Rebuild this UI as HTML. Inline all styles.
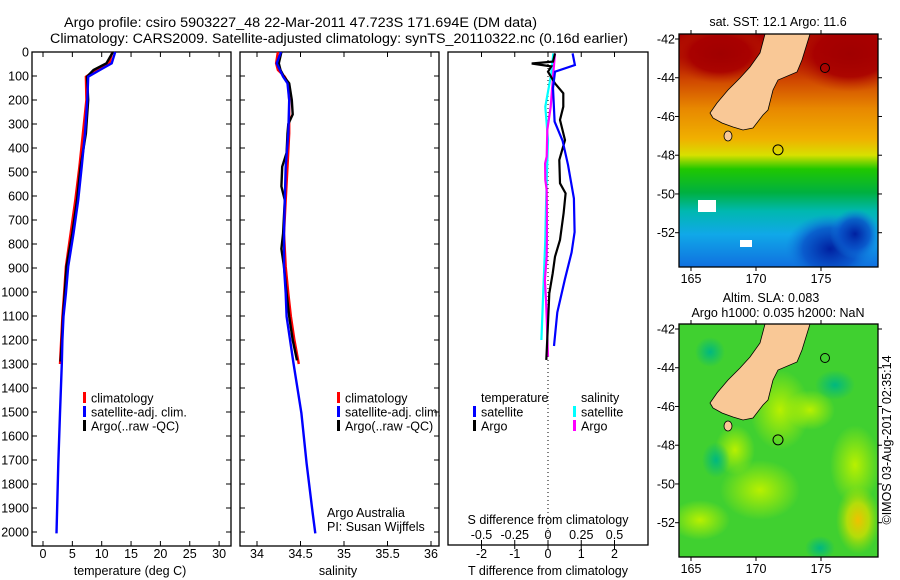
<!DOCTYPE html>
<html><head><meta charset="utf-8"><style>
body{margin:0;background:#fff;}
svg{display:block;font-family:"Liberation Sans",sans-serif;}
text{font-size:12.5px;fill:#000;}
</style></head><body>
<svg id="fig" width="900" height="580" viewBox="0 0 900 580">
<defs>
<linearGradient id="sstg" x1="0" y1="0" x2="0" y2="1">
<stop offset="0" stop-color="#a80000"/><stop offset="0.1" stop-color="#b00800"/><stop offset="0.2" stop-color="#d04800"/>
<stop offset="0.32" stop-color="#e88800"/><stop offset="0.45" stop-color="#f0b000"/><stop offset="0.52" stop-color="#d8e000"/>
<stop offset="0.58" stop-color="#20c800"/><stop offset="0.68" stop-color="#00b040"/><stop offset="0.76" stop-color="#00b8b0"/>
<stop offset="0.86" stop-color="#10a8e8"/><stop offset="1" stop-color="#1070e0"/></linearGradient>
<radialGradient id="blueblob"><stop offset="0" stop-color="#0020a0"/><stop offset="0.6" stop-color="#0850c8" stop-opacity="0.8"/><stop offset="1" stop-color="#1080e0" stop-opacity="0"/></radialGradient>
<radialGradient id="redblob"><stop offset="0" stop-color="#a00000"/><stop offset="0.6" stop-color="#a80000" stop-opacity="0.9"/><stop offset="1" stop-color="#c03000" stop-opacity="0"/></radialGradient>
<radialGradient id="yelblob"><stop offset="0" stop-color="#f0c000"/><stop offset="0.5" stop-color="#d0e000" stop-opacity="0.8"/><stop offset="1" stop-color="#a0e000" stop-opacity="0"/></radialGradient>
<radialGradient id="ygblob"><stop offset="0" stop-color="#b8f000"/><stop offset="1" stop-color="#b8f000" stop-opacity="0"/></radialGradient>
<radialGradient id="tealblob"><stop offset="0" stop-color="#00b880"/><stop offset="1" stop-color="#00b880" stop-opacity="0"/></radialGradient>
</defs>
<text x="64" y="27" textLength="473" lengthAdjust="spacingAndGlyphs" style="font-size:14.2px">Argo profile: csiro 5903227_48 22-Mar-2011 47.723S 171.694E (DM data)</text>
<text x="50" y="43" textLength="578" lengthAdjust="spacingAndGlyphs" style="font-size:14.2px">Climatology: CARS2009. Satellite-adjusted climatology: synTS_20110322.nc (0.16d earlier)</text>
<g id="g1"></g>
<g id="g2"></g>
<g id="g3"></g>
<g id="m1"></g>
<g id="m2"></g>
<text x="0" y="0" transform="translate(891,440) rotate(-90)" text-anchor="middle">©IMOS 03-Aug-2017 02:35:14</text>
</svg>
<script>
// ---- data ----
const depthsT = [0,47,75,103,200,339,478,617,756,894,1006,1102,1200,1300,1505,1714,2006];
const tempSat = [12.3,11.7,9.7,7.7,7.55,7.15,6.6,6.0,5.2,4.3,3.9,3.5,3.3,3.2,2.9,2.6,2.3];
const depthsClim = [0,47,75,103,200,339,478,617,756,894,1006,1102,1200,1300];
const tempClim = [11.8,11.3,9.0,7.3,7.4,6.8,6.2,5.5,4.7,3.9,3.6,3.3,3.1,2.9];
const depthsArgo = [0,47,75,103,200,339,478,617,756,894,1006,1102,1200,1290];
const tempArgo = [11.9,10.8,8.6,7.5,7.7,7.3,6.4,5.8,5.0,4.0,3.7,3.4,3.2,3.0];
const depthsS = [0,47,103,131,200,339,478,617,756,894,1006,1102,1297,1505,1714,1922,2006];
const salSat = [34.276,34.226,34.30,34.35,34.37,34.36,34.33,34.32,34.31,34.31,34.33,34.34,34.42,34.51,34.57,34.64,34.67];
const depthsSClim = [0,47,75,103,131,200,339,478,617,756,894,1006,1102,1200,1300];
const salClim = [34.24,34.22,34.24,34.32,34.36,34.37,34.37,34.35,34.33,34.31,34.33,34.36,34.39,34.43,34.48];
const depthsSArgo = [0,47,75,103,131,200,260,300,339,420,478,560,617,756,820,894,1006,1102,1200,1285];
const salArgo = [34.28,34.25,34.27,34.31,34.37,34.40,34.41,34.36,34.35,34.34,34.29,34.28,34.32,34.30,34.28,34.31,34.34,34.37,34.41,34.46];
const dDepthTSat = [6,54,82,150,290,370,470,610,750,835,945,1085,1225];
const dTSat = [0.74,0.81,0.21,0.15,0.2,0.44,0.6,0.78,0.8,0.71,0.51,0.28,0.18];
const dDepthTArgo = [6,40,48,60,82,131,172,228,283,367,450,547,589,672,783,853,922,1006,1130,1283];
const dTArgo = [0.21,0.15,-0.49,0.1,0.0,0.21,0.46,0.46,0.36,0.51,0.34,0.36,0.53,0.47,0.36,0.21,0.14,0.04,0.0,-0.05];
const dDepthSArgo = [6,89,158,228,325,436,464,533,575,672,783,853,950,1033,1130,1269];
const dSArgo = [0.053,0.04,0.03,0.02,-0.005,-0.01,-0.022,-0.02,-0.01,-0.008,-0.008,-0.01,-0.023,-0.015,-0.008,0.0];
const dDepthSSat = [6,89,228,367,506,644,783,922,1061,1200];
const dSSat = [0.04,0.025,-0.02,0.0,-0.008,-0.015,-0.02,-0.03,-0.04,-0.05];
const depthTicks = [0,100,200,300,400,500,600,700,800,900,1000,1100,1200,1300,1400,1500,1600,1700,1800,1900,2000];
const tempTicks = [0,5,10,15,20,25,30];
const salTicks = [34,34.5,35,35.5,36];
const tdTicks = [-2,-1,0,1,2];
const sdTicks = [-0.5,-0.25,0,0.25,0.5];
const latTicks = [-42,-44,-46,-48,-50,-52];
const lonTicks = [165,170,175];

// ---- axes ----
const yD = d => 52 + d*0.24;
const xT = t => 43 + t*5.87;
const xS = s => 257 + (s-34)*87;
const xTD = v => 548 + v*33.25;
const xSD = v => 548 + v*133;
const NS='http://www.w3.org/2000/svg';
function mk(parent, tag, at, txt){const e=document.createElementNS(NS,tag);for(const k in at)e.setAttribute(k,at[k]);if(txt!==undefined)e.textContent=txt;parent.appendChild(e);return e;}

function frame(g,x0,x1,y0,y1,name){
  const r=mk(g,'rect',{x:x0,y:y0,width:x1-x0,height:y1-y0,fill:'none',stroke:'#000','stroke-width':1.3});
  
  
}
function line(g,xs,ys,fx,color,name,w){
  const pts=xs.map((v,i)=>fx(v).toFixed(1)+','+yD(ys[i]).toFixed(1)).join(' ');
  const p=mk(g,'polyline',{points:pts,fill:'none',stroke:color,'stroke-width':w||2.4,'stroke-linejoin':'miter'});
  
  
}
function yTicks(g,x0,x1,labels){
  depthTicks.forEach(d=>{
    const y=yD(d);
    mk(g,'line',{x1:x0,y1:y,x2:x0+5,y2:y,stroke:'#000'});
    mk(g,'line',{x1:x1-5,y1:y,x2:x1,y2:y,stroke:'#000'});
    if(labels){const t=mk(g,'text',{x:x0-3,y:y+4.5,'text-anchor':'end'},d);
      
      }
  });
}
function legendBar(g,x,y,color,label,name){
  mk(g,'rect',{x:x-1,y:y-6,width:3,height:11,fill:color});
  const t=mk(g,'text',{x:x+7,y:y+4.5},label);
  
  
}

// ---- panel 1 temperature ----
const g1=document.getElementById('g1');
frame(g1,32,231,52,546,'temperature-axes-frame');
yTicks(g1,32,231,true);
tempTicks.forEach(t=>{const x=xT(t);mk(g1,'line',{x1:x,y1:546,x2:x,y2:541,stroke:'#000'});mk(g1,'line',{x1:x,y1:52,x2:x,y2:57,stroke:'#000'});
  const l=mk(g1,'text',{x:x,y:558,'text-anchor':'middle'},t);
  
  });
line(g1,tempClim,depthsClim,xT,'#f00','temperature-climatology-line');
line(g1,tempArgo,depthsArgo,xT,'#000','temperature-argo-line');
line(g1,tempSat,depthsT,xT,'#00f','temperature-satellite-line');
legendBar(g1,84,398,'#f00','climatology','legend-climatology');
legendBar(g1,84,412,'#00f','satellite-adj. clim.','legend-satellite');
legendBar(g1,84,426,'#000','Argo(..raw -QC)','legend-argo');
{const t=mk(g1,'text',{x:130,y:575,'text-anchor':'middle'},'temperature (deg C)');}

// ---- panel 2 salinity ----
const g2=document.getElementById('g2');
frame(g2,240,439,52,546,'salinity-axes-frame');
yTicks(g2,240,439,false);
salTicks.forEach(s=>{const x=xS(s);mk(g2,'line',{x1:x,y1:546,x2:x,y2:541,stroke:'#000'});mk(g2,'line',{x1:x,y1:52,x2:x,y2:57,stroke:'#000'});
  const l=mk(g2,'text',{x:x,y:558,'text-anchor':'middle'},s);
  
  });
line(g2,salClim,depthsSClim,xS,'#f00','salinity-climatology-line');
line(g2,salArgo,depthsSArgo,xS,'#000','salinity-argo-line');
line(g2,salSat,depthsS,xS,'#00f','salinity-satellite-line');
legendBar(g2,338,398,'#f00','climatology','legend-climatology-sal');
legendBar(g2,338,412,'#00f','satellite-adj. clim.','legend-satellite-sal');
legendBar(g2,338,426,'#000','Argo(..raw -QC)','legend-argo-sal');
{const t=mk(g2,'text',{x:327,y:517},'Argo Australia');}
{const t=mk(g2,'text',{x:327,y:531},'PI: Susan Wijffels');}
{const t=mk(g2,'text',{x:338,y:575,'text-anchor':'middle'},'salinity');}

// ---- panel 3 differences ----
const g3=document.getElementById('g3');
frame(g3,448,648,52,545,'difference-axes-frame');
mk(g3,'line',{x1:548,y1:52,x2:548,y2:545,stroke:'#000','stroke-dasharray':'1,3'});
tdTicks.forEach(v=>{const x=xTD(v);mk(g3,'line',{x1:x,y1:52,x2:x,y2:57,stroke:'#000'});mk(g3,'line',{x1:x,y1:545,x2:x,y2:549,stroke:'#000'});
  const l=mk(g3,'text',{x:x,y:558,'text-anchor':'middle'},v);
  
  });
sdTicks.forEach(v=>{const x=xSD(v);mk(g3,'line',{x1:x,y1:545,x2:x,y2:540,stroke:'#000'});
  const l=mk(g3,'text',{x:x,y:539,'text-anchor':'middle'},v);
  
  });
line(g3,dSSat,dDepthSSat,xSD,'#0ff','sdiff-satellite-line',2.2);
line(g3,dSArgo,dDepthSArgo,xSD,'#f0f','sdiff-argo-line',2.2);
line(g3,dTArgo,dDepthTArgo,xTD,'#000','tdiff-argo-line',2.2);
line(g3,dTSat,dDepthTSat,xTD,'#00f','tdiff-satellite-line',2.2);
{const t=mk(g3,'text',{x:481,y:402},'temperature');}
{const t=mk(g3,'text',{x:581,y:402},'salinity');}
legendBar(g3,474,412,'#00f','satellite','legend-t-satellite');
legendBar(g3,474,426,'#000','Argo','legend-t-argo');
legendBar(g3,574,412,'#0ff','satellite','legend-s-satellite');
legendBar(g3,574,426,'#f0f','Argo','legend-s-argo');
{const t=mk(g3,'text',{x:548,y:524,'text-anchor':'middle'},'S difference from climatology');}
{const t=mk(g3,'text',{x:548,y:575,'text-anchor':'middle'},'T difference from climatology');}

// ---- maps ----
const lx = lon => 691 + (lon-165)*13;
const landPts=[[765,34],[810,34],[802,60],[797,72],[778,80],[773,90],[768,110],[763,115],[753,128],[743,130],[733,127],[722,123],[713,118],[710,113],[717,103],[728,90],[740,78],[750,67],[760,53]];
function map(id,off,kind){
  const g=document.getElementById(id);
  const y0=34+off,y1=267+off,x0=679,x1=878;
  const ly = lat => 39+off + (-42-lat)*19.37;
  const clip='clip'+id;
  const cp=mk(g,'clipPath',{id:clip});mk(cp,'rect',{x:x0,y:y0,width:x1-x0,height:y1-y0});
  const inner=mk(g,'g',{'clip-path':'url(#'+clip+')'});
  if(kind==='sst'){
    mk(inner,'rect',{x:x0,y:y0,width:x1-x0,height:y1-y0,fill:'url(#sstg)'});
    mk(inner,'ellipse',{cx:850,cy:y0+20,rx:60,ry:38,fill:'url(#redblob)'});
    mk(inner,'ellipse',{cx:720,cy:y0+20,rx:50,ry:30,fill:'url(#redblob)'});
    mk(inner,'ellipse',{cx:830,cy:y0+215,rx:45,ry:35,fill:'url(#blueblob)'});
    mk(inner,'ellipse',{cx:855,cy:y0+200,rx:25,ry:25,fill:'url(#blueblob)'});
    mk(inner,'rect',{x:698,y:y0+166,width:18,height:12,fill:'#fff'});
    mk(inner,'rect',{x:740,y:y0+206,width:12,height:7,fill:'#fff'});
  } else {
    mk(inner,'rect',{x:x0,y:y0,width:x1-x0,height:y1-y0,fill:'#40d030'});
    [[780,410,30,40],[760,490,40,30],[700,520,30,20],[855,465,25,40],[735,450,20,25],[810,410,25,20]].forEach(b=>mk(inner,'ellipse',{cx:b[0],cy:b[1],rx:b[2],ry:b[3],fill:'url(#ygblob)'}));
    [[710,62,15,15],[716,170,14,18],[835,95,20,15],[820,258,15,12]].forEach(b=>mk(inner,'ellipse',{cx:b[0],cy:b[1]+off,rx:b[2],ry:b[3],fill:'url(#tealblob)'}));
    mk(inner,'ellipse',{cx:858,cy:y0+196,rx:22,ry:34,fill:'url(#yelblob)'});
  }
  const land=mk(inner,'polygon',{points:landPts.map(p=>p[0]+','+(p[1]+off)).join(' '),fill:'#f9c896',stroke:'#000','stroke-width':0.8});
  
  
  mk(inner,'ellipse',{cx:728,cy:136+off,rx:4,ry:5,fill:'#f9c896',stroke:'#000','stroke-width':0.8});
  const argo=mk(inner,'circle',{cx:lx(171.694),cy:ly(-47.723),r:5,fill:'none',stroke:'#000'});
  
  
  mk(inner,'circle',{cx:825,cy:68+off,r:4.5,fill:'none',stroke:'#000'});
  frame(g,x0,x1,y0,y1,id==='m1'?'sst-map-frame':'sla-map-frame');
  latTicks.forEach(l=>{const y=ly(l);mk(g,'line',{x1:x0-4,y1:y,x2:x0,y2:y,stroke:'#000'});mk(g,'line',{x1:x1,y1:y,x2:x1+4,y2:y,stroke:'#000'});
    const t=mk(g,'text',{x:x0-4,y:y+4.5,'text-anchor':'end'},l);
    
    });
  lonTicks.forEach(l=>{const x=lx(l);mk(g,'line',{x1:x,y1:y1,x2:x,y2:y1+4,stroke:'#000'});mk(g,'line',{x1:x,y1:y0-4,x2:x,y2:y0,stroke:'#000'});
    const t=mk(g,'text',{x:x,y:y1+16,'text-anchor':'middle'},l);
    
    });
}
map('m1',0,'sst');
map('m2',290,'sla');
{const m1=document.getElementById('m1');const t=mk(m1,'text',{x:778,y:26,'text-anchor':'middle'},'sat. SST: 12.1 Argo: 11.6');}
{const m2=document.getElementById('m2');const t=mk(m2,'text',{x:771,y:302,'text-anchor':'middle'},'Altim. SLA: 0.083');
 const t2=mk(m2,'text',{x:778,y:317,'text-anchor':'middle'},'Argo h1000: 0.035 h2000: NaN');}
</script>
</body></html>
